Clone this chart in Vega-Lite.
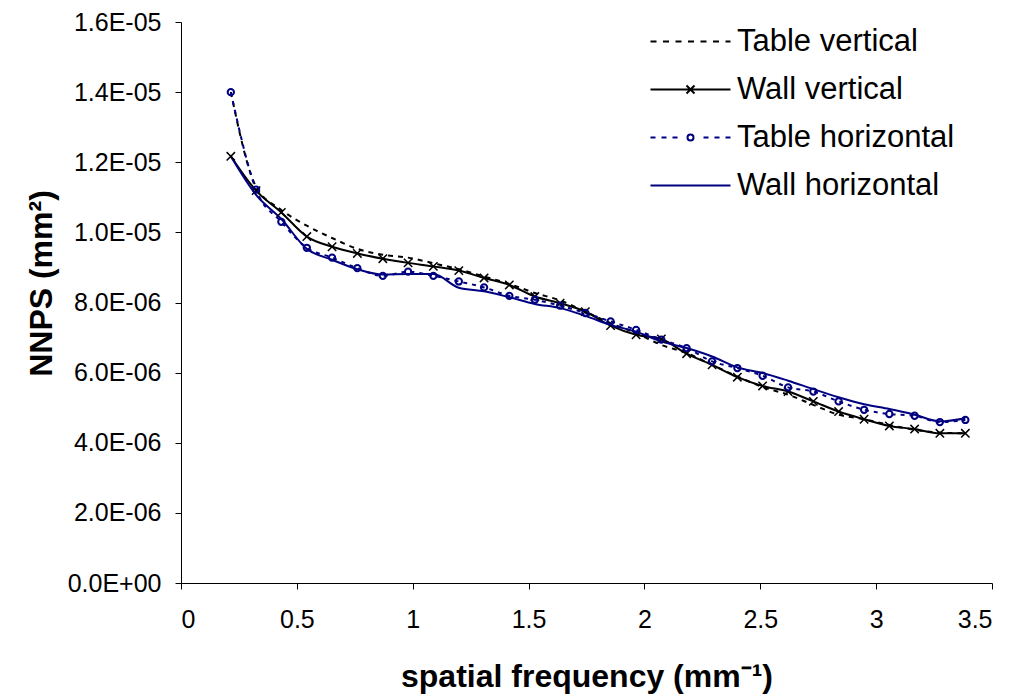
{
  "$schema": "https://vega.github.io/schema/vega-lite/v6.json",
  "width": 811,
  "height": 561,
  "autosize": {"type": "none"},
  "padding": {"left": 181, "top": 22, "right": 24, "bottom": 117},
  "background": "white",
  "config": {
    "view": {"stroke": null},
    "font": "Liberation Sans",
    "axis": {
      "grid": false,
      "domainColor": "#000000",
      "domainWidth": 1,
      "tickColor": "#000000",
      "tickWidth": 1,
      "tickSize": 6,
      "labelColor": "#000000",
      "labelFont": "Liberation Sans",
      "labelFontSize": 25,
      "titleFont": "Liberation Sans",
      "titleFontSize": 32,
      "titleFontWeight": "bold",
      "titleColor": "#000000"
    }
  },
  "data": {
    "values": [
      {"f": 0.215, "s": "Table vertical", "v": 1.4e-5},
      {"f": 0.324, "s": "Table vertical", "v": 1.13e-5},
      {"f": 0.433, "s": "Table vertical", "v": 1.064e-5},
      {"f": 0.543, "s": "Table vertical", "v": 1.019e-5},
      {"f": 0.652, "s": "Table vertical", "v": 9.84e-6},
      {"f": 0.761, "s": "Table vertical", "v": 9.53e-6},
      {"f": 0.871, "s": "Table vertical", "v": 9.36e-6},
      {"f": 0.980, "s": "Table vertical", "v": 9.28e-6},
      {"f": 1.089, "s": "Table vertical", "v": 9.12e-6},
      {"f": 1.199, "s": "Table vertical", "v": 8.95e-6},
      {"f": 1.308, "s": "Table vertical", "v": 8.74e-6},
      {"f": 1.417, "s": "Table vertical", "v": 8.53e-6},
      {"f": 1.527, "s": "Table vertical", "v": 8.27e-6},
      {"f": 1.636, "s": "Table vertical", "v": 8.06e-6},
      {"f": 1.745, "s": "Table vertical", "v": 7.74e-6},
      {"f": 1.854, "s": "Table vertical", "v": 7.41e-6},
      {"f": 1.964, "s": "Table vertical", "v": 7.13e-6},
      {"f": 2.073, "s": "Table vertical", "v": 6.79e-6},
      {"f": 2.182, "s": "Table vertical", "v": 6.56e-6},
      {"f": 2.292, "s": "Table vertical", "v": 6.22e-6},
      {"f": 2.401, "s": "Table vertical", "v": 5.89e-6},
      {"f": 2.510, "s": "Table vertical", "v": 5.59e-6},
      {"f": 2.620, "s": "Table vertical", "v": 5.37e-6},
      {"f": 2.729, "s": "Table vertical", "v": 5.08e-6},
      {"f": 2.838, "s": "Table vertical", "v": 4.80e-6},
      {"f": 2.948, "s": "Table vertical", "v": 4.67e-6},
      {"f": 3.057, "s": "Table vertical", "v": 4.51e-6},
      {"f": 3.166, "s": "Table vertical", "v": 4.37e-6},
      {"f": 3.275, "s": "Table vertical", "v": 4.29e-6},
      {"f": 3.385, "s": "Table vertical", "v": 4.27e-6},

      {"f": 0.215, "s": "Wall vertical", "v": 1.217e-5},
      {"f": 0.324, "s": "Wall vertical", "v": 1.119e-5},
      {"f": 0.433, "s": "Wall vertical", "v": 1.057e-5},
      {"f": 0.543, "s": "Wall vertical", "v": 9.88e-6},
      {"f": 0.652, "s": "Wall vertical", "v": 9.59e-6},
      {"f": 0.761, "s": "Wall vertical", "v": 9.40e-6},
      {"f": 0.871, "s": "Wall vertical", "v": 9.25e-6},
      {"f": 0.980, "s": "Wall vertical", "v": 9.13e-6},
      {"f": 1.089, "s": "Wall vertical", "v": 9.03e-6},
      {"f": 1.199, "s": "Wall vertical", "v": 8.91e-6},
      {"f": 1.308, "s": "Wall vertical", "v": 8.70e-6},
      {"f": 1.417, "s": "Wall vertical", "v": 8.50e-6},
      {"f": 1.527, "s": "Wall vertical", "v": 8.17e-6},
      {"f": 1.636, "s": "Wall vertical", "v": 7.98e-6},
      {"f": 1.745, "s": "Wall vertical", "v": 7.74e-6},
      {"f": 1.854, "s": "Wall vertical", "v": 7.34e-6},
      {"f": 1.964, "s": "Wall vertical", "v": 7.08e-6},
      {"f": 2.073, "s": "Wall vertical", "v": 6.96e-6},
      {"f": 2.182, "s": "Wall vertical", "v": 6.54e-6},
      {"f": 2.292, "s": "Wall vertical", "v": 6.22e-6},
      {"f": 2.401, "s": "Wall vertical", "v": 5.87e-6},
      {"f": 2.510, "s": "Wall vertical", "v": 5.62e-6},
      {"f": 2.620, "s": "Wall vertical", "v": 5.46e-6},
      {"f": 2.729, "s": "Wall vertical", "v": 5.18e-6},
      {"f": 2.838, "s": "Wall vertical", "v": 4.89e-6},
      {"f": 2.948, "s": "Wall vertical", "v": 4.67e-6},
      {"f": 3.057, "s": "Wall vertical", "v": 4.48e-6},
      {"f": 3.166, "s": "Wall vertical", "v": 4.39e-6},
      {"f": 3.275, "s": "Wall vertical", "v": 4.27e-6},
      {"f": 3.385, "s": "Wall vertical", "v": 4.27e-6},

      {"f": 0.215, "s": "Table horizontal", "v": 1.4e-5},
      {"f": 0.324, "s": "Table horizontal", "v": 1.122e-5},
      {"f": 0.433, "s": "Table horizontal", "v": 1.030e-5},
      {"f": 0.543, "s": "Table horizontal", "v": 9.56e-6},
      {"f": 0.652, "s": "Table horizontal", "v": 9.28e-6},
      {"f": 0.761, "s": "Table horizontal", "v": 8.98e-6},
      {"f": 0.871, "s": "Table horizontal", "v": 8.76e-6},
      {"f": 0.980, "s": "Table horizontal", "v": 8.88e-6},
      {"f": 1.089, "s": "Table horizontal", "v": 8.76e-6},
      {"f": 1.199, "s": "Table horizontal", "v": 8.60e-6},
      {"f": 1.308, "s": "Table horizontal", "v": 8.43e-6},
      {"f": 1.417, "s": "Table horizontal", "v": 8.19e-6},
      {"f": 1.527, "s": "Table horizontal", "v": 8.08e-6},
      {"f": 1.636, "s": "Table horizontal", "v": 7.91e-6},
      {"f": 1.745, "s": "Table horizontal", "v": 7.70e-6},
      {"f": 1.854, "s": "Table horizontal", "v": 7.46e-6},
      {"f": 1.964, "s": "Table horizontal", "v": 7.22e-6},
      {"f": 2.073, "s": "Table horizontal", "v": 6.94e-6},
      {"f": 2.182, "s": "Table horizontal", "v": 6.70e-6},
      {"f": 2.292, "s": "Table horizontal", "v": 6.32e-6},
      {"f": 2.401, "s": "Table horizontal", "v": 6.13e-6},
      {"f": 2.510, "s": "Table horizontal", "v": 5.91e-6},
      {"f": 2.620, "s": "Table horizontal", "v": 5.58e-6},
      {"f": 2.729, "s": "Table horizontal", "v": 5.46e-6},
      {"f": 2.838, "s": "Table horizontal", "v": 5.18e-6},
      {"f": 2.948, "s": "Table horizontal", "v": 4.94e-6},
      {"f": 3.057, "s": "Table horizontal", "v": 4.82e-6},
      {"f": 3.166, "s": "Table horizontal", "v": 4.77e-6},
      {"f": 3.275, "s": "Table horizontal", "v": 4.59e-6},
      {"f": 3.385, "s": "Table horizontal", "v": 4.65e-6},

      {"f": 0.215, "s": "Wall horizontal", "v": 1.217e-5},
      {"f": 0.324, "s": "Wall horizontal", "v": 1.107e-5},
      {"f": 0.433, "s": "Wall horizontal", "v": 1.038e-5},
      {"f": 0.543, "s": "Wall horizontal", "v": 9.53e-6},
      {"f": 0.652, "s": "Wall horizontal", "v": 9.22e-6},
      {"f": 0.761, "s": "Wall horizontal", "v": 8.95e-6},
      {"f": 0.871, "s": "Wall horizontal", "v": 8.80e-6},
      {"f": 0.980, "s": "Wall horizontal", "v": 8.81e-6},
      {"f": 1.089, "s": "Wall horizontal", "v": 8.81e-6},
      {"f": 1.199, "s": "Wall horizontal", "v": 8.42e-6},
      {"f": 1.308, "s": "Wall horizontal", "v": 8.32e-6},
      {"f": 1.417, "s": "Wall horizontal", "v": 8.15e-6},
      {"f": 1.527, "s": "Wall horizontal", "v": 7.96e-6},
      {"f": 1.636, "s": "Wall horizontal", "v": 7.84e-6},
      {"f": 1.745, "s": "Wall horizontal", "v": 7.62e-6},
      {"f": 1.854, "s": "Wall horizontal", "v": 7.36e-6},
      {"f": 1.964, "s": "Wall horizontal", "v": 7.17e-6},
      {"f": 2.073, "s": "Wall horizontal", "v": 6.89e-6},
      {"f": 2.182, "s": "Wall horizontal", "v": 6.70e-6},
      {"f": 2.292, "s": "Wall horizontal", "v": 6.46e-6},
      {"f": 2.401, "s": "Wall horizontal", "v": 6.15e-6},
      {"f": 2.510, "s": "Wall horizontal", "v": 5.99e-6},
      {"f": 2.620, "s": "Wall horizontal", "v": 5.77e-6},
      {"f": 2.729, "s": "Wall horizontal", "v": 5.53e-6},
      {"f": 2.838, "s": "Wall horizontal", "v": 5.30e-6},
      {"f": 2.948, "s": "Wall horizontal", "v": 5.10e-6},
      {"f": 3.057, "s": "Wall horizontal", "v": 4.96e-6},
      {"f": 3.166, "s": "Wall horizontal", "v": 4.80e-6},
      {"f": 3.275, "s": "Wall horizontal", "v": 4.61e-6},
      {"f": 3.385, "s": "Wall horizontal", "v": 4.70e-6}
    ]
  },
  "encoding": {
    "x": {
      "field": "f",
      "type": "quantitative",
      "scale": {"domain": [0, 3.5], "nice": false, "zero": false},
      "axis": {
        "values": [0, 0.5, 1, 1.5, 2, 2.5, 3, 3.5],
        "format": "~g",
        "labelPadding": 18,
        "title": "spatial frequency (mm⁻¹)",
        "titleY": 78
      }
    },
    "y": {
      "field": "v",
      "type": "quantitative",
      "scale": {"domain": [0, 1.6e-5], "nice": false},
      "axis": {
        "values": [0, 2e-6, 4e-6, 6e-6, 8e-6, 1e-5, 1.2e-5, 1.4e-5, 1.6e-5],
        "labelExpr": "replace(replace(format(datum.value, '.1e'), 'e-', 'E-0'), 'e+0', 'E+00')",
        "labelPadding": 14,
        "title": "NNPS (mm²)",
        "titleX": -123,
        "titleY": 261
      }
    }
  },
  "layer": [
    {
      "transform": [{"filter": "datum.s == 'Table vertical'"}],
      "mark": {"type": "line", "interpolate": "monotone", "strokeWidth": 2, "color": "#000000", "strokeDash": [5, 5]}
    },
    {
      "transform": [{"filter": "datum.s == 'Wall vertical'"}],
      "mark": {"type": "line", "interpolate": "monotone", "strokeWidth": 2, "color": "#000000"}
    },
    {
      "transform": [{"filter": "datum.s == 'Table horizontal'"}],
      "mark": {"type": "line", "interpolate": "monotone", "strokeWidth": 2, "color": "#000080", "strokeDash": [4, 5]}
    },
    {
      "transform": [{"filter": "datum.s == 'Wall horizontal'"}],
      "mark": {"type": "line", "interpolate": "monotone", "strokeWidth": 2, "color": "#000080"}
    },
    {
      "transform": [{"filter": "datum.s == 'Wall vertical'"}],
      "mark": {
        "type": "point",
        "shape": "M-1,-1L1,1M-1,1L1,-1",
        "size": 70,
        "strokeWidth": 1.5,
        "color": "#000000",
        "filled": false,
        "opacity": 1
      }
    },
    {
      "transform": [{"filter": "datum.s == 'Table horizontal'"}],
      "mark": {
        "type": "point",
        "shape": "circle",
        "size": 40,
        "strokeWidth": 2,
        "color": "#000080",
        "filled": false,
        "opacity": 1
      }
    },
    {
      "mark": {"type": "point", "filled": false, "opacity": 0, "strokeWidth": 2},
      "encoding": {
        "color": {
          "field": "s",
          "type": "nominal",
          "scale": {
            "domain": ["Table vertical", "Wall vertical", "Table horizontal", "Wall horizontal"],
            "range": ["#000000", "#000000", "#000080", "#000080"]
          },
          "legend": {
            "orient": "none",
            "legendX": 494,
            "legendY": 4,
            "title": null,
            "padding": 0,
            "labelFont": "Liberation Sans",
            "labelFontSize": 31,
            "labelColor": "#000000",
            "labelLimit": 400,
            "labelOffset": 31,
            "symbolSize": 400,
            "symbolStrokeWidth": 2,
            "symbolOpacity": 1,
            "rowPadding": 16
          }
        },
        "shape": {
          "field": "s",
          "type": "nominal",
          "scale": {
            "domain": ["Table vertical", "Wall vertical", "Table horizontal", "Wall horizontal"],
            "range": [
              "M-4,0H-3.4M-2.75,0H-2.15M-1.5,0H-0.9M-0.25,0H0.35M1,0H1.6M2.25,0H2.85M3.5,0H4",
              "M-4,0H4M-0.4,-0.4L0.4,0.4M-0.4,0.4L0.4,-0.4",
              "M-4,0H-3.5M-2.9,0H-2.4M-1.8,0H-1.3M1.3,0H1.8M2.4,0H2.9M3.5,0H4M0.3,0A0.3,0.3 0 1,1 -0.3,0A0.3,0.3 0 1,1 0.3,0",
              "M-4,0H4"
            ]
          },
          "legend": {
            "orient": "none",
            "legendX": 494,
            "legendY": 4,
            "title": null,
            "padding": 0,
            "labelFont": "Liberation Sans",
            "labelFontSize": 31,
            "labelColor": "#000000",
            "labelLimit": 400,
            "labelOffset": 31,
            "symbolSize": 400,
            "symbolStrokeWidth": 2,
            "symbolOpacity": 1,
            "rowPadding": 16
          }
        }
      }
    }
  ]
}
